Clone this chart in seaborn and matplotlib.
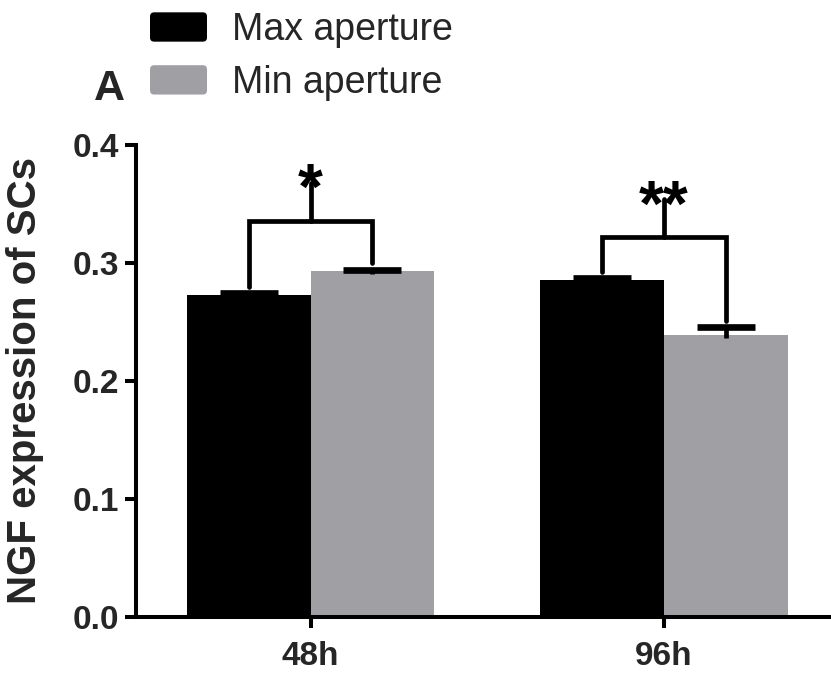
import matplotlib
matplotlib.use("Agg")
import matplotlib.pyplot as plt
import seaborn as sns
import pandas as pd
from matplotlib.patches import FancyBboxPatch
from matplotlib.legend_handler import HandlerPatch
from matplotlib.container import BarContainer

# ---- data ----
times = ["48h", "96h"]
groups = ["Max aperture", "Min aperture"]
max_vals = [0.2733, 0.2855]
min_vals = [0.2931, 0.2387]
max_sem = [0.0010, 0.0015]
min_sem = [0.0010, 0.0068]
significance = ["*", "**"]
yticks = [0.0, 0.1, 0.2, 0.3, 0.4]
ytick_labels = ["0.0", "0.1", "0.2", "0.3", "0.4"]
ylabel = "NGF expression of SCs"
panel_label = "A"

# annotation styling (bracket levels in data units)
bracket_levels = [0.336, 0.322]
stem_height = 0.032
leg_gap = 0.0055

sns.set_style("ticks")
plt.rcParams["font.family"] = ["Liberation Sans", "DejaVu Sans"]

df = pd.DataFrame({
    "time": times * 2,
    "group": [groups[0]] * len(times) + [groups[1]] * len(times),
    "value": max_vals + min_vals,
})

W, H = 831, 675
fig = plt.figure(figsize=(W / 100, H / 100), dpi=100)
ax = fig.add_axes([136 / W, (H - 617) / H, 1 - 136 / W, (617 - 145) / H])

colors = ["#000000", "#a0a0a4"]
sns.barplot(data=df, x="time", y="value", hue="group", hue_order=groups,
            order=times, palette=colors, width=0.7, errorbar=None,
            linewidth=0, saturation=1, legend=False, ax=ax)

bar_containers = [c for c in ax.containers if isinstance(c, BarContainer)]

# error bars (upper only, GraphPad style)
sems = [max_sem, min_sem]
tops = {}
for gi, cont in enumerate(bar_containers):
    for ti, bar in enumerate(cont.patches):
        xc = bar.get_x() + bar.get_width() / 2
        top = bar.get_height()
        e = sems[gi][ti]
        ax.errorbar([xc], [top + e / 2 - 0.001], yerr=[e / 2 + 0.001], fmt="none",
                    ecolor="black", elinewidth=3.4, capsize=0, zorder=3)
        ax.plot([xc], [top + e], marker="_", markersize=41.8,
                markeredgewidth=4.8, color="black", zorder=3)
        tops[(gi, ti)] = (xc, top + e)

# significance brackets
for ti in range(len(times)):
    x1, t1 = tops[(0, ti)]
    x2, t2 = tops[(1, ti)]
    yb = bracket_levels[ti]
    xm = (x1 + x2) / 2
    ax.plot([x1, x1, x2, x2], [t1 + leg_gap, yb, yb, t2 + leg_gap],
            color="black", lw=3.4, solid_joinstyle="miter", zorder=4, clip_on=False)
    ax.plot([xm, xm], [yb, yb + stem_height], color="black", lw=3.4,
            zorder=4, clip_on=False)
    ax.annotate(significance[ti], xy=(xm, yb + stem_height), xytext=(0, -19),
                textcoords="offset points", ha="center", va="baseline",
                fontsize=46, fontweight="bold", color="black",
                annotation_clip=False)

# axes styling
ax.set_ylim(0, 0.4)
ax.set_xlim(-0.494, 1.473)
ax.set_yticks(yticks)
ax.set_yticklabels(ytick_labels, fontsize=24, fontweight="bold")
ax.set_xticks(range(len(times)))
ax.set_xticklabels(times, fontsize=24, fontweight="bold")
ax.set_xlabel("")
ax.set_ylabel(ylabel, fontsize=29, fontweight="bold")
ax.yaxis.set_label_coords(-0.132, 0.5)
for s in ["top", "right"]:
    ax.spines[s].set_visible(False)
for s in ["left", "bottom"]:
    ax.spines[s].set_linewidth(2.9)
    ax.spines[s].set_color("black")
ax.tick_params(axis="both", length=8, width=2.9, color="black")
ax.tick_params(axis="y", pad=4)
ax.tick_params(axis="x", pad=9)


# legend with rounded handles
class RoundHandler(HandlerPatch):
    def create_artists(self, legend, orig_handle, xdescent, ydescent,
                       width, height, fontsize, trans):
        r = 3
        p = FancyBboxPatch((-xdescent + r, -ydescent + r), width - 2 * r,
                           height - 2 * r, boxstyle=f"round,pad={r}",
                           facecolor=orig_handle.get_facecolor(),
                           edgecolor="none", transform=trans)
        return [p]


fs_leg = 27
em = fs_leg * 100 / 72
handles = [cont.patches[0] for cont in bar_containers]
leg = fig.legend(handles, groups, loc="upper left",
                 bbox_to_anchor=(150 / W, 1 - 12 / H), frameon=False,
                 fontsize=fs_leg, borderpad=0, borderaxespad=0,
                 handlelength=57 / em, handleheight=31 / em,
                 handletextpad=0.68, labelspacing=0.45,
                 handler_map={type(handles[0]): RoundHandler()})

fig.text(109 / W, 1 - 100 / H, panel_label, fontsize=31, fontweight="bold",
         ha="center", va="baseline")

fig.savefig("out.png", dpi=100, facecolor="white")
